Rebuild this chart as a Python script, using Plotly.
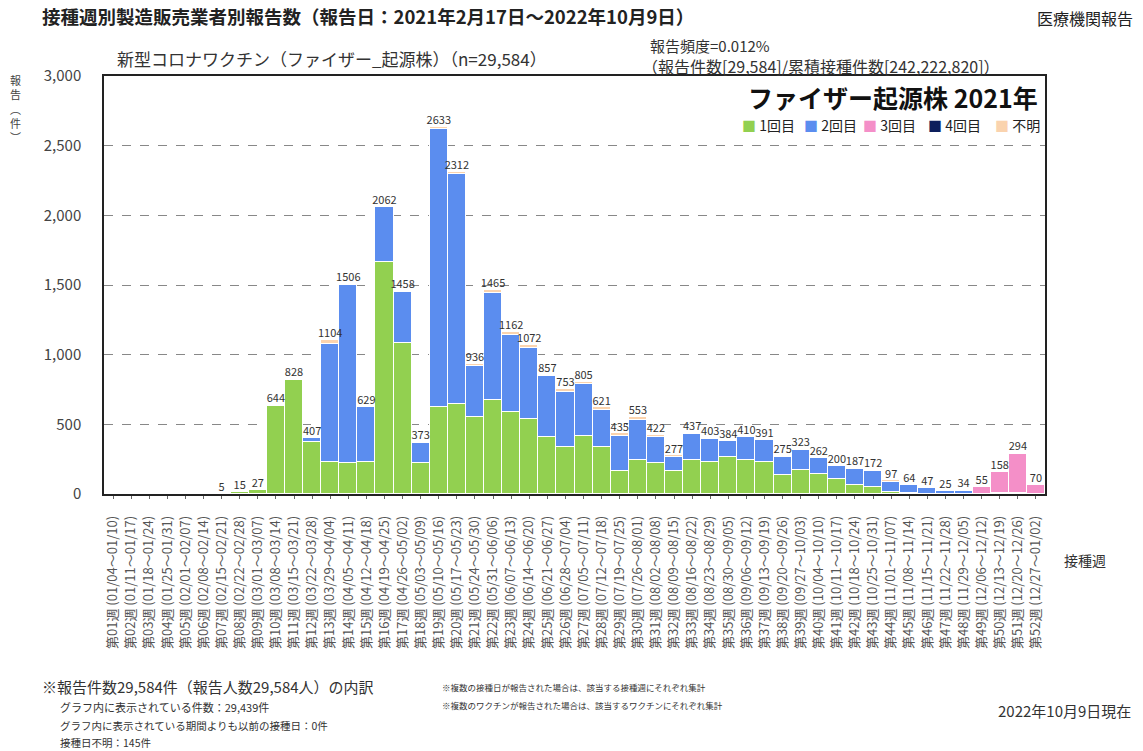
import plotly.graph_objects as go

weeks = [
    "第01週 (01/04～01/10)", "第02週 (01/11～01/17)", "第03週 (01/18～01/24)", "第04週 (01/25～01/31)",
    "第05週 (02/01～02/07)", "第06週 (02/08～02/14)", "第07週 (02/15～02/21)", "第08週 (02/22～02/28)",
    "第09週 (03/01～03/07)", "第10週 (03/08～03/14)", "第11週 (03/15～03/21)", "第12週 (03/22～03/28)",
    "第13週 (03/29～04/04)", "第14週 (04/05～04/11)", "第15週 (04/12～04/18)", "第16週 (04/19～04/25)",
    "第17週 (04/26～05/02)", "第18週 (05/03～05/09)", "第19週 (05/10～05/16)", "第20週 (05/17～05/23)",
    "第21週 (05/24～05/30)", "第22週 (05/31～06/06)", "第23週 (06/07～06/13)", "第24週 (06/14～06/20)",
    "第25週 (06/21～06/27)", "第26週 (06/28～07/04)", "第27週 (07/05～07/11)", "第28週 (07/12～07/18)",
    "第29週 (07/19～07/25)", "第30週 (07/26～08/01)", "第31週 (08/02～08/08)", "第32週 (08/09～08/15)",
    "第33週 (08/16～08/22)", "第34週 (08/23～08/29)", "第35週 (08/30～09/05)", "第36週 (09/06～09/12)",
    "第37週 (09/13～09/19)", "第38週 (09/20～09/26)", "第39週 (09/27～10/03)", "第40週 (10/04～10/10)",
    "第41週 (10/11～10/17)", "第42週 (10/18～10/24)", "第43週 (10/25～10/31)", "第44週 (11/01～11/07)",
    "第45週 (11/08～11/14)", "第46週 (11/15～11/21)", "第47週 (11/22～11/28)", "第48週 (11/29～12/05)",
    "第49週 (12/06～12/12)", "第50週 (12/13～12/19)", "第51週 (12/20～12/26)", "第52週 (12/27～01/02)",
]

dose1 = [0, 0, 0, 0, 0, 0, 5, 15, 27, 632, 815, 371, 233, 221, 228, 1665, 1083, 226,
         621, 649, 556, 673, 590, 537, 411, 334, 418, 334, 167, 243, 220, 167, 243, 232,
         267, 243, 227, 138, 174, 145, 107, 67, 50, 15, 5, 2, 1, 1, 0, 0, 0, 0]
dose2 = [0, 0, 0, 0, 0, 0, 0, 0, 0, 6, 5, 29, 846, 1280, 398, 392, 367, 138,
         1998, 1650, 363, 771, 549, 513, 436, 401, 370, 270, 251, 289, 191, 100, 190, 162,
         115, 163, 162, 131, 143, 112, 91, 112, 112, 70, 57, 38, 22, 18, 3, 5, 5, 2]
dose3 = [0] * 47 + [10, 50, 150, 285, 66]
dose4 = [0] * 52
unknown = [0, 0, 0, 0, 0, 0, 0, 0, 0, 6, 8, 7, 25, 5, 3, 5, 8, 9,
           14, 13, 17, 21, 23, 22, 10, 18, 17, 17, 17, 21, 11, 10, 4, 9,
           2, 4, 2, 6, 6, 5, 2, 8, 10, 12, 2, 7, 2, 5, 2, 3, 4, 2]
total_labels = [None, None, None, None, None, None, 5, 15, 27, 644, 828, 407, 1104, 1506, 629,
                2062, 1458, 373, 2633, 2312, 936, 1465, 1162, 1072, 857, 753, 805, 621, 435,
                553, 422, 277, 437, 403, 384, 410, 391, 275, 323, 262, 200, 187, 172, 97, 64,
                47, 25, 34, 55, 158, 294, 70]

series = [
    ("1回目", dose1, "#92D050"),
    ("2回目", dose2, "#5B8DEF"),
    ("3回目", dose3, "#F48FC8"),
    ("4回目", dose4, "#0D1F5C"),
    ("不明", unknown, "#FAD3AE"),
]

FONT = "Noto Sans CJK JP"
fig = go.Figure()
for name, vals, color in series:
    fig.add_trace(go.Bar(
        x=weeks, y=vals, name=name, showlegend=False,
        marker=dict(color=color, line=dict(color="white", width=1)),
    ))

stack_tops = [a + b + c + d + e for a, b, c, d, e in zip(dose1, dose2, dose3, dose4, unknown)]
fig.add_trace(go.Scatter(
    x=weeks, y=[t if lbl is not None else None for t, lbl in zip(stack_tops, total_labels)],
    mode="text", text=[str(v) if v is not None else "" for v in total_labels],
    textposition="top center", textfont=dict(size=11, color="#333333", family=FONT),
    showlegend=False, hoverinfo="skip", cliponaxis=False,
))

fig.update_layout(
    width=1143, height=751,
    margin=dict(l=104, r=98, t=76, b=257),
    barmode="stack", bargap=0,
    paper_bgcolor="white", plot_bgcolor="white",
    font=dict(family=FONT, color="#333333"),
    showlegend=False,
    xaxis=dict(
        tickangle=-90, tickfont=dict(size=13, color="#555555", family=FONT),
        showline=True, linecolor="#222222", linewidth=1.5, mirror=True,
        ticks="outside", ticklen=3, tickcolor="#666666", ticklabelstandoff=12,
        range=[-0.5, 51.5], showgrid=False,
    ),
    yaxis=dict(
        range=[0, 3000], dtick=500, tickformat=",",
        tickfont=dict(size=15, color="#444444", family=FONT),
        showline=True, linecolor="#222222", linewidth=1.5, mirror=True,
        showgrid=True, gridcolor="#888888", griddash="dash", gridwidth=1,
        ticklabelstandoff=18, zeroline=False,
    ),
)


def px(x, y):
    return (x - 104) / 941, (494 - y) / 418


ann = [
    ("<b>接種週別製造販売業者別報告数（報告日：2021年2月17日～2022年10月9日）</b>", 40, 16, 18.5, "#222222", "left"),
    ("医療機関報告", 1135, 18, 16, "#222222", "right"),
    ("新型コロナワクチン（ファイザー_起源株）（n=29,584）", 115, 58, 17, "#333333", "left"),
    ("報告頻度=0.012%", 648, 46, 15, "#333333", "left"),
    ("（報告件数[29,584]/累積接種件数[242,222,820]）", 640, 66, 16, "#333333", "left"),
    ("接種週", 1062, 560, 14, "#333333", "left"),
    ("※報告件数29,584件（報告人数29,584人）の内訳", 40, 686, 15, "#333333", "left"),
    ("グラフ内に表示されている件数：29,439件", 58, 707, 11, "#333333", "left"),
    ("グラフ内に表示されている期間よりも以前の接種日：0件", 58, 725, 10.5, "#333333", "left"),
    ("接種日不明：145件", 58, 742, 10.5, "#333333", "left"),
    ("※複数の接種日が報告された場合は、該当する接種週にそれぞれ集計", 440, 687, 8.5, "#333333", "left"),
    ("※複数のワクチンが報告された場合は、該当するワクチンにそれぞれ集計", 440, 705, 8.5, "#333333", "left"),
    ("2022年10月9日現在", 1133, 710, 15, "#333333", "right"),
    ("<b>ファイザー起源株 2021年</b>", 1040, 97, 25, "#111111", "right"),
]
for text, x, y, size, color, anchor in ann:
    ax, ay = px(x, y)
    fig.add_annotation(
        text=text, xref="paper", yref="paper", x=ax, y=ay,
        xanchor=anchor, yanchor="middle", showarrow=False,
        font=dict(size=size, color=color, family=FONT),
    )

# legend drawn as text entries
legend_x = [740, 802, 861, 926, 993]
for (name, _, color), lx in zip(series, legend_x):
    ax, ay = px(lx, 125)
    fig.add_annotation(
        text=f'<span style="color:{color}">■</span> {name}', xref="paper", yref="paper",
        x=ax, y=ay, xanchor="left", yanchor="middle", showarrow=False,
        font=dict(size=14, color="#222222", family=FONT),
    )

# vertical y-axis title
ax, ay = px(15, 70)
fig.add_annotation(
    text="報<br>告<br>︵<br>件<br>︶", xref="paper", yref="paper", x=ax, y=ay,
    xanchor="center", yanchor="top", showarrow=False,
    font=dict(size=11, color="#444444", family=FONT),
)

fig.write_html("out.html", config={"displayModeBar": False},
               post_script="document.body.style.margin='0';")
